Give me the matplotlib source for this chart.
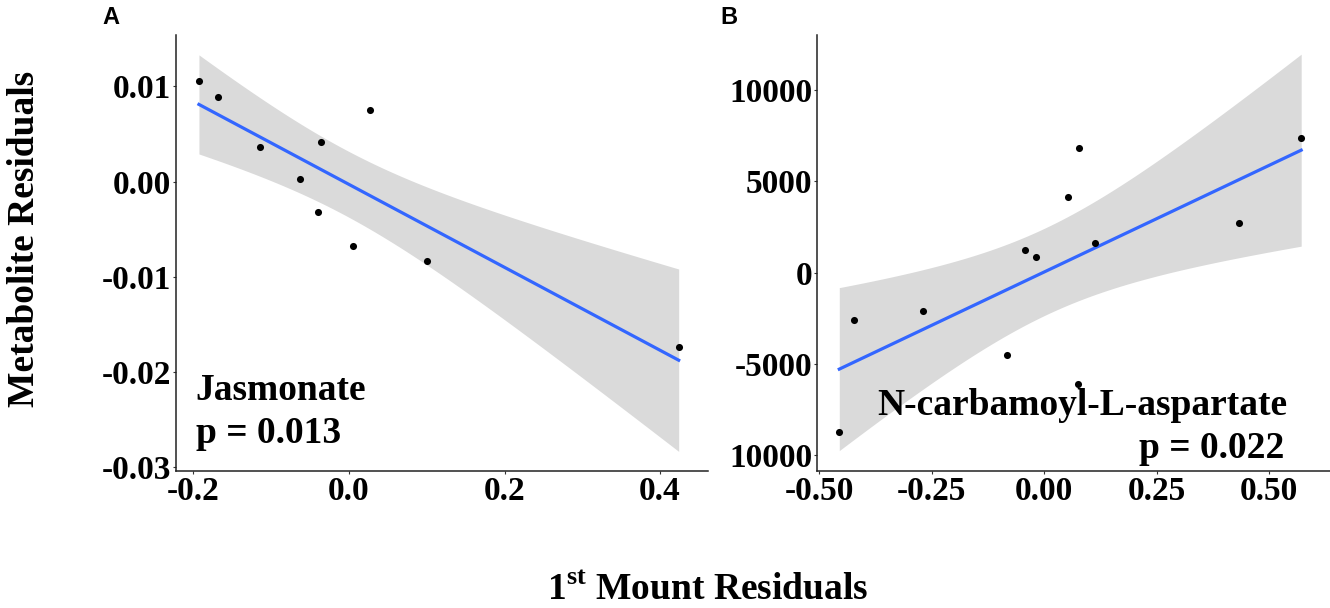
import matplotlib

matplotlib.use("Agg")
import matplotlib.pyplot as plt
import numpy as np

plt.rcParams["font.family"] = ["Liberation Serif", "DejaVu Serif"]
plt.rcParams["font.weight"] = "bold"
plt.rcParams["mathtext.fontset"] = "custom"
plt.rcParams["mathtext.rm"] = "Liberation Serif:bold"

# panel A: Jasmonate
jas_x = [-0.193, -0.168, -0.115, -0.063, -0.040, -0.0355, 0.0055, 0.027, 0.1007, 0.424]
jas_y = [0.01056, 0.00888, 0.00368, 0.00028, -0.00316, 0.00414, -0.00674, 0.00754, -0.00839, -0.01737]
jas_xticks = [-0.2, 0.0, 0.2, 0.4]
jas_xlabels = ["-0.2", "0.0", "0.2", "0.4"]
jas_yticks = [-0.03, -0.02, -0.01, 0.00, 0.01]
jas_ylabels = ["-0.03", "-0.02", "-0.01", "0.00", "0.01"]

# panel B: N-carbamoyl-L-aspartate
asp_x = [-0.455, -0.4234, -0.270, -0.0826, -0.0429, -0.0179, 0.0538, 0.0772, 0.0754, 0.113, 0.432, 0.571]
asp_y = [-8740, -2591, -2080, -4489, 1241, 876, 4161, 6843, -6113, 1642, 2701, 7354]
asp_xticks = [-0.50, -0.25, 0.00, 0.25, 0.50]
asp_xlabels = ["-0.50", "-0.25", "0.00", "0.25", "0.50"]
asp_yticks = [-10000, -5000, 0, 5000, 10000]
asp_ylabels = ["10000", "-5000", "0", "5000", "10000"]  # minus of the bottom label is cut off in the source

T975 = {8: 2.306, 10: 2.228}  # t quantiles for the 95% band

BAND = "#dadada"
LINE = "#3366ff"
W, H = 1330, 608


def lm_band(x, y, n_grid=80):
    x = np.asarray(x, float)
    y = np.asarray(y, float)
    n = len(x)
    b, a = np.polyfit(x, y, 1)
    resid = y - (a + b * x)
    s = np.sqrt(np.sum(resid ** 2) / (n - 2))
    xg = np.linspace(x.min(), x.max(), n_grid)
    se = s * np.sqrt(1 / n + (xg - x.mean()) ** 2 / np.sum((x - x.mean()) ** 2))
    fit = a + b * xg
    t = T975[n - 2]
    return xg, fit, fit - t * se, fit + t * se


def panel(ax, x, y, xticks, xlabels, yticks, ylabels):
    xg, fit, lo, hi = lm_band(x, y)
    ax.fill_between(xg, lo, hi, color=BAND, lw=0, zorder=1)
    ax.plot(xg, fit, color=LINE, lw=2.3, zorder=2)
    ax.scatter(x, y, s=26, color="black", zorder=3, linewidths=0)
    for side in ("top", "right"):
        ax.spines[side].set_visible(False)
    for side in ("left", "bottom"):
        ax.spines[side].set_linewidth(1.1)
        ax.spines[side].set_color("#222222")
    ax.set_xticks(xticks, xlabels)
    ax.set_yticks(yticks, ylabels)
    ax.tick_params(length=2.5, width=0.8, color="#333333", labelsize=24, pad=1.0, labelcolor="black")


def px_axes(fig, left, right, top, bottom):
    return fig.add_axes([left / W, (H - bottom) / H, (right - left) / W, (bottom - top) / H])


fig = plt.figure(figsize=(13.3, 6.08), dpi=100)

ax_a = px_axes(fig, 176, 708, 35, 470.7)
panel(ax_a, jas_x, jas_y, jas_xticks, jas_xlabels, jas_yticks, jas_ylabels)
ax_a.set_xlim(-0.2225, 0.4617)
ax_a.set_ylim(-0.03044, 0.01542)
ax_a.text(0.037, 0.162, "Jasmonate", transform=ax_a.transAxes, fontsize=27, va="baseline")
ax_a.text(0.037, 0.064, "p = 0.013", transform=ax_a.transAxes, fontsize=27, va="baseline")

ax_b = px_axes(fig, 817, 1330, 35, 470.7)
panel(ax_b, asp_x, asp_y, asp_xticks, asp_xlabels, asp_yticks, asp_ylabels)
ax_b.set_xlim(-0.5045, 0.6350)
ax_b.set_ylim(-10840, 13014)
ax_b.text(0.916, 0.128, "N-carbamoyl-L-aspartate", transform=ax_b.transAxes, fontsize=27,
          ha="right", va="baseline")
ax_b.text(0.912, 0.029, "p = 0.022", transform=ax_b.transAxes, fontsize=27,
          ha="right", va="baseline")

fig.text(25 / W, 1 - 239 / H, "Metabolite Residuals", rotation=90, fontsize=27,
         ha="center", va="center")
fig.text(708 / W, 1 - 600 / H, r"1$^{\mathrm{st}}$ Mount Residuals", fontsize=27,
         ha="center", va="baseline")
fig.text(102 / W, 1 - 24 / H, "A", fontsize=17, family=["Liberation Sans"], va="baseline")
fig.text(720 / W, 1 - 24 / H, "B", fontsize=17, family=["Liberation Sans"], va="baseline")

fig.savefig("out.png", dpi=100)
